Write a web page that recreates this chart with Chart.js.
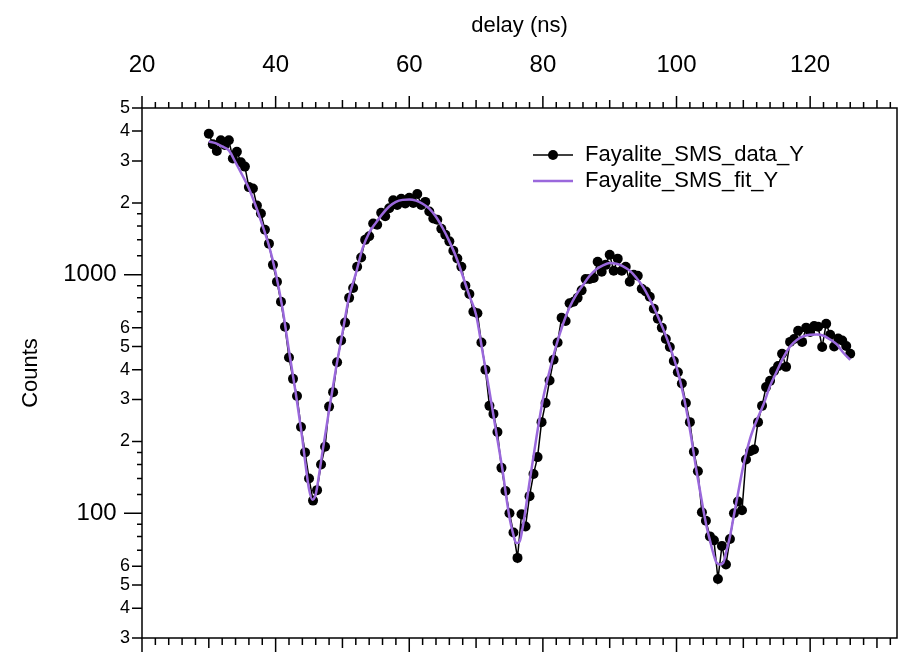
<!DOCTYPE html>
<html>
<head>
<meta charset="utf-8">
<title>Fayalite SMS</title>
<script src="https://cdn.jsdelivr.net/npm/chart.js@4.4.1/dist/chart.umd.min.js"></script>
<style>
  html, body { margin: 0; padding: 0; background: #fff; }
  #chart { display: block; }
</style>
</head>
<body>
<canvas id="chart" width="906" height="656"></canvas>
<script>
// ---- data ----

// measured points (delay in ns, counts)
const delayNs = [
  30.0, 30.6, 31.2, 31.8, 32.4, 33.0, 33.6, 34.2, 34.8, 35.4,
  36.0, 36.6, 37.2, 37.8, 38.4, 39.0, 39.6, 40.2, 40.8, 41.4,
  42.0, 42.6, 43.2, 43.8, 44.4, 45.0, 45.6, 46.2, 46.8, 47.4,
  48.0, 48.6, 49.2, 49.8, 50.4, 51.0, 51.6, 52.2, 52.8, 53.4,
  54.0, 54.6, 55.2, 55.8, 56.4, 57.0, 57.6, 58.2, 58.8, 59.4,
  60.0, 60.6, 61.2, 61.8, 62.4, 63.0, 63.6, 64.2, 64.8, 65.4,
  66.0, 66.6, 67.2, 67.8, 68.4, 69.0, 69.6, 70.2, 70.8, 71.4,
  72.0, 72.6, 73.2, 73.8, 74.4, 75.0, 75.6, 76.2, 76.8, 77.4,
  78.0, 78.6, 79.2, 79.8, 80.4, 81.0, 81.6, 82.2, 82.8, 83.4,
  84.0, 84.6, 85.2, 85.8, 86.4, 87.0, 87.6, 88.2, 88.8, 89.4,
  90.0, 90.6, 91.2, 91.8, 92.4, 93.0, 93.6, 94.2, 94.8, 95.4,
  96.0, 96.6, 97.2, 97.8, 98.4, 99.0, 99.6, 100.2, 100.8, 101.4,
  102.0, 102.6, 103.2, 103.8, 104.4, 105.0, 105.6, 106.2, 106.8, 107.4,
  108.0, 108.6, 109.2, 109.8, 110.4, 111.0, 111.6, 112.2, 112.8, 113.4,
  114.0, 114.6, 115.2, 115.8, 116.4, 117.0, 117.6, 118.2, 118.8, 119.4,
  120.0, 120.6, 121.2, 121.8, 122.4, 123.0, 123.6, 124.2, 124.8, 125.4,
  126.0
];
const counts = [
  3900, 3520, 3300, 3660, 3500, 3660, 3070, 3280, 2960, 2840,
  2330, 2300, 1950, 1805, 1545, 1350, 1100, 935, 770, 605,
  450, 366, 310, 230, 180, 140, 113, 125, 160, 190,
  280, 322, 430, 530, 630, 800, 880, 1080, 1180, 1400,
  1450, 1640, 1620, 1820, 1760, 1900, 2050, 1960, 2080, 1990,
  2100, 2000, 2180, 1960, 2020, 1840, 1720, 1700, 1560, 1470,
  1380, 1260, 1170, 1080, 900, 830, 700, 690, 520, 400,
  282, 261, 219, 155, 124, 100, 83, 65, 99, 88,
  118, 146, 172, 241, 290, 360, 440, 520, 660, 640,
  760, 770, 800, 860, 960, 960, 970, 1134, 1030, 1100,
  1213, 1040, 1168, 1040, 1080, 935, 1000, 990, 874, 850,
  808, 720, 654, 600, 538, 498, 435, 390, 350, 290,
  241, 181, 150, 101, 93, 80, 77, 53, 73, 61,
  78, 100, 112, 103, 168, 182, 185, 241, 282, 338,
  359, 395, 414, 466, 411, 523, 538, 582, 523, 600,
  576, 610, 605, 498, 623, 560, 500, 540, 530, 503,
  466
];

// fitted curve
const fitNs = [
  30, 31, 32, 33, 34, 35, 36, 37, 38, 39,
  40, 41, 42, 43, 44, 44.5, 45, 45.5, 46, 46.5,
  47, 48, 49, 50, 51, 52, 53, 54, 55, 56,
  57, 58, 59, 60, 61, 62, 63, 64, 65, 66,
  67, 68, 69, 70, 71, 72, 73, 74, 74.5, 75,
  75.5, 76, 76.5, 77, 77.5, 78, 79, 80, 81, 82,
  83, 84, 85, 86, 87, 88, 89, 90, 91, 92,
  93, 94, 95, 96, 97, 98, 99, 100, 101, 102,
  103, 104, 104.5, 105, 105.5, 106, 106.5, 107, 107.5, 108,
  108.5, 109, 110, 111, 112, 113, 114, 115, 116, 117,
  118, 119, 120, 121, 122, 123, 124, 125, 126
];
const fitCounts = [
  3620, 3560, 3450, 3320, 2960, 2620, 2300, 1950, 1620, 1324,
  1020, 730, 480, 320, 205, 158, 126, 114, 120, 145,
  180, 270, 400, 570, 810, 1010, 1286, 1500, 1650, 1800,
  1932, 2020, 2060, 2067, 2045, 1985, 1894, 1750, 1570, 1380,
  1190, 990, 816, 680, 470, 325, 220, 149, 118, 96,
  83, 75, 76, 88, 108, 135, 205, 300, 395, 505,
  620, 730, 825, 905, 990, 1055, 1095, 1120, 1112, 1085,
  1040, 970, 890, 790, 690, 593, 500, 410, 316, 225,
  150, 104, 88, 77, 68, 62, 61, 62, 70, 80,
  95, 113, 158, 205, 245, 285, 342, 393, 450, 500,
  533, 552, 560, 561, 555, 535, 510, 470, 440
];

// y axis ticks (log) and their labels, '' = unlabelled minor tick
const yTickValues = [30, 40, 50, 60, 70, 80, 90, 100, 120, 140, 160, 180,
  200, 300, 400, 500, 600, 700, 800, 900, 1000, 1200, 1400, 1600, 1800,
  2000, 3000, 4000, 5000];
const yTickLabels = ['3', '4', '5', '6', '', '', '', '100', '', '', '', '',
  '2', '3', '4', '5', '6', '', '', '', '1000', '', '', '', '',
  '2', '3', '4', '5'];

const FONT = "'Liberation Sans', Arial, Helvetica, sans-serif";
const FIT_COLOR = '#9a68dc';

Chart.defaults.font.family = FONT;
Chart.defaults.color = '#000';

function yLabel(v) {
  const i = yTickValues.indexOf(v);
  return i < 0 ? '' : yTickLabels[i];
}

// keep the plot box at fixed edges: no extra label overhang padding
function fixBox(size) {
  return s => {
    if (s.isHorizontal()) s.height = size; else s.width = size;
    s.paddingLeft = 0;
    s.paddingRight = 0;
    s.paddingTop = 0;
    s.paddingBottom = 0;
  };
}

// frame, tick marks and the legend are drawn here (ticks from the chart's own scales)
const frameAndTicks = {
  id: 'frameAndTicks',
  afterDraw(chart) {
    const { ctx, chartArea: area, scales } = chart;
    ctx.save();
    ctx.strokeStyle = '#000';
    ctx.lineWidth = 1.5;
    ctx.strokeRect(area.left, area.top, area.right - area.left, area.bottom - area.top);

    ctx.beginPath();
    scales.x.ticks.forEach(t => {
      const px = scales.x.getPixelForValue(t.value);
      const len = t.value % 20 === 0 ? 12 : (t.value % 10 === 0 ? 8 : 6);
      ctx.moveTo(px, area.top);
      ctx.lineTo(px, area.top - len);
    });
    scales.x2.ticks.forEach(t => {
      const px = scales.x2.getPixelForValue(t.value);
      const len = t.value % 20 === 0 ? 14 : (t.value % 10 === 0 ? 10 : 7);
      ctx.moveTo(px, area.bottom);
      ctx.lineTo(px, area.bottom + len);
    });
    scales.y.ticks.forEach(t => {
      const py = scales.y.getPixelForValue(t.value);
      const lab = yLabel(t.value);
      const len = lab.length > 1 ? 18 : (lab ? 10 : 5);
      ctx.moveTo(area.left, py);
      ctx.lineTo(area.left - len, py);
    });
    ctx.stroke();

    // legend
    const ds = chart.data.datasets;
    const lx = 533, ly1 = 155, ly2 = 181;
    ctx.lineWidth = 1.5;
    ctx.strokeStyle = '#000';
    ctx.beginPath();
    ctx.moveTo(lx, ly1);
    ctx.lineTo(lx + 40, ly1);
    ctx.stroke();
    ctx.fillStyle = '#000';
    ctx.beginPath();
    ctx.arc(lx + 20, ly1, 5, 0, Math.PI * 2);
    ctx.fill();
    ctx.strokeStyle = FIT_COLOR;
    ctx.lineWidth = 2.5;
    ctx.beginPath();
    ctx.moveTo(lx, ly2);
    ctx.lineTo(lx + 40, ly2);
    ctx.stroke();
    ctx.font = '22px ' + FONT;
    ctx.textBaseline = 'middle';
    ctx.textAlign = 'left';
    ctx.fillText(ds[0].label, lx + 52, ly1);
    ctx.fillText(ds[1].label, lx + 52, ly2);
    ctx.restore();
  }
};

new Chart(document.getElementById('chart'), {
  type: 'line',
  data: {
    datasets: [
      {
        label: 'Fayalite_SMS_data_Y',
        data: delayNs.map((x, i) => ({ x, y: counts[i] })),
        borderColor: '#000',
        backgroundColor: '#000',
        borderWidth: 1.5,
        pointRadius: 5,
        pointBorderWidth: 0,
        tension: 0,
        order: 2,
        xAxisID: 'x',
        yAxisID: 'y'
      },
      {
        label: 'Fayalite_SMS_fit_Y',
        data: fitNs.map((x, i) => ({ x, y: fitCounts[i] })),
        borderColor: FIT_COLOR,
        borderWidth: 2.5,
        pointRadius: 0,
        cubicInterpolationMode: 'monotone',
        order: 1,
        xAxisID: 'x',
        yAxisID: 'y'
      }
    ]
  },
  options: {
    responsive: false,
    animation: false,
    layout: { padding: { left: 0, top: 0, bottom: 0, right: 9 } },
    plugins: {
      legend: { display: false },
      tooltip: { enabled: false }
    },
    scales: {
      x: {
        type: 'linear',
        position: 'top',
        min: 20,
        max: 133,
        grid: { display: false, drawTicks: false },
        border: { display: false },
        afterFit: fixBox(108),
        ticks: {
          stepSize: 2,
          autoSkip: false,
          includeBounds: false,
          maxRotation: 0,
          padding: 28,
          font: { size: 24 },
          callback: v => (v % 20 === 0 ? String(v) : '')
        },
        title: {
          display: true,
          text: 'delay (ns)',
          font: { size: 22 },
          padding: { top: 13, bottom: 0 }
        }
      },
      x2: {
        type: 'linear',
        position: 'bottom',
        min: 20,
        max: 133,
        grid: { display: false, drawTicks: false },
        border: { display: false },
        afterFit: fixBox(18),
        ticks: { stepSize: 2, autoSkip: false, includeBounds: false, display: false }
      },
      y: {
        type: 'logarithmic',
        position: 'left',
        min: 30,
        max: 5000,
        grid: { display: false, drawTicks: false },
        border: { display: false },
        afterBuildTicks: s => { s.ticks = yTickValues.map(v => ({ value: v })); },
        afterFit: fixBox(142),
        ticks: {
          autoSkip: false,
          padding: 12,
          callback: v => {
            const lab = yLabel(v);
            return lab.length > 1 ? lab + '  ' : lab;
          },
          font: c => ({ size: c.tick && yLabel(c.tick.value).length > 1 ? 24 : 18 })
        },
        title: {
          display: true,
          text: 'Counts',
          font: { size: 22 },
          padding: { top: 18, bottom: 0 }
        }
      }
    }
  },
  plugins: [frameAndTicks]
});
</script>
</body>
</html>
